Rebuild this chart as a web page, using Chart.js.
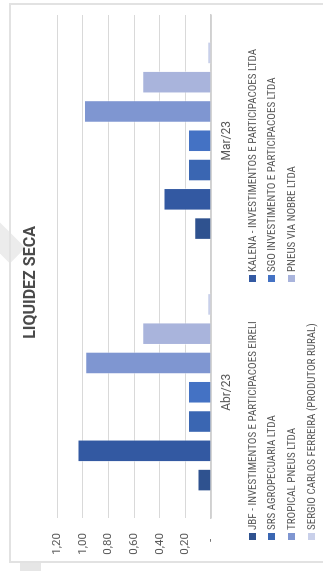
<!DOCTYPE html>
<html>
<head>
<meta charset="utf-8">
<script src="https://cdn.jsdelivr.net/npm/chart.js@4.4.1/dist/chart.umd.min.js"></script>
<style>
  html, body { margin: 0; padding: 0; background: #fff; }
  body { width: 323px; height: 571px; overflow: hidden; position: relative; }
  /* the whole chart is laid out landscape and turned a quarter turn */
  #stage {
    position: absolute; left: 0; top: 0; width: 571px; height: 323px;
    transform-origin: 0 0; transform: translate(0px, 571px) rotate(-90deg);
  }
  #frame {
    position: absolute; left: 8px; top: 9px; width: 560px; height: 340px;
    border: 2px solid #e2e2e2; box-sizing: border-box;
  }
  #tab { position: absolute; left: 0; top: 20px; width: 8px; height: 21px; background: #e6e6e6; }
  #stripe {
    position: absolute; left: 306px; top: -16px; width: 64px; height: 22px;
    background: #ececec; transform: rotate(-45deg);
  }
  #chart { position: absolute; left: 0; top: 0; }
  #title {
    position: absolute; left: 0; width: 577px; top: 20px; text-align: center;
    font: bold 16px Roboto, sans-serif; color: #4a4a4a;
  }
  #legend { position: absolute; left: 0; top: 0; }
  .item {
    position: absolute; white-space: nowrap; height: 12px; line-height: 12px;
    font: 11px "Liberation Sans Narrow", "Roboto Condensed", Roboto, sans-serif; color: #595959;
  }
  .item i { display: inline-block; width: 7px; height: 7px; margin-right: 3px; vertical-align: 0px; }
</style>
</head>
<body>
<div id="stage">
  <div id="stripe"></div>
  <div id="frame"></div>
  <div id="tab"></div>
  <canvas id="chart" width="571" height="323"></canvas>
  <div id="title">LIQUIDEZ SECA</div>
  <div id="legend"></div>
</div>
<script>
  const categories = ["Abr/23", "Mar/23"];
  const tickLabels = ["-  ", "0,20", "0,40", "0,60", "0,80", "1,00", "1,20"];

  const seriesNames = [
    "JBF - INVESTIMENTOS E PARTICIPACOES EIRELI",
    "KALENA - INVESTIMENTOS E PARTICIPACOES LTDA",
    "SRS AGROPECUARIA LTDA",
    "SGO INVESTIMENTO E PARTICIPACOES LTDA",
    "TROPICAL PNEUS LTDA",
    "PNEUS VIA NOBRE LTDA",
    "SERGIO CARLOS FERREIRA (PRODUTOR RURAL)",
  ];
  const jbf = [0.105, 0.13];
  const kalena = [1.04, 0.37];
  const srs = [0.18, 0.18];
  const sgo = [0.18, 0.18];
  const tropical = [0.98, 0.99];
  const pneus = [0.535, 0.535];
  const sergio = [0.03, 0.03];
  const seriesColors = ["#2f528f", "#3359a2", "#3a66b2", "#4472c4", "#7f96d1", "#a9b4dc", "#c9d0ea"];

  const allSeries = [jbf, kalena, srs, sgo, tropical, pneus, sergio];

  // legend: two columns, filled row by row
  const legend = document.getElementById("legend");
  const colX = [31, 289];
  const rowY = [246, 265, 285, 305];
  seriesNames.forEach((name, i) => {
    const el = document.createElement("div");
    el.className = "item";
    el.style.left = colX[i % 2] + "px";
    el.style.top = rowY[Math.floor(i / 2)] + "px";
    el.innerHTML = '<i style="background:' + seriesColors[i] + '"></i>' + name;
    legend.appendChild(el);
  });

  const chart = new Chart(document.getElementById("chart").getContext("2d"), {
    type: "bar",
    data: {
      labels: categories,
      datasets: allSeries.map((vals, i) => ({
        label: seriesNames[i],
        data: vals,
        backgroundColor: seriesColors[i],
        borderColor: "rgba(255,255,255,0.5)",
        borderWidth: 1,
        categoryPercentage: 0.815,
        barPercentage: 0.77,
      })),
    },
    options: {
      responsive: false,
      animation: false,
      layout: { padding: { top: 57, right: 15, left: 0, bottom: 0 } },
      plugins: { legend: { display: false }, title: { display: false }, tooltip: { enabled: false } },
      scales: {
        x: {
          grid: { display: false, drawTicks: false },
          border: { display: true, color: "#d0d0d0", width: 1.5 },
          ticks: { color: "#595959", font: { family: "Roboto", size: 12 }, padding: 9 },
          afterFit: (scale) => { scale.height = 112; },
        },
        y: {
          min: 0,
          max: 1.2,
          grid: { color: "#d9d9d9", lineWidth: 1, drawTicks: false },
          border: { display: false },
          ticks: {
            stepSize: 0.2,
            padding: 15,
            color: "#595959",
            font: { family: "Roboto", size: 11.5 },
            callback: (v, idx) => tickLabels[idx],
          },
          afterFit: (scale) => { scale.width = 53; },
        },
      },
    },
  });
</script>
</body>
</html>
